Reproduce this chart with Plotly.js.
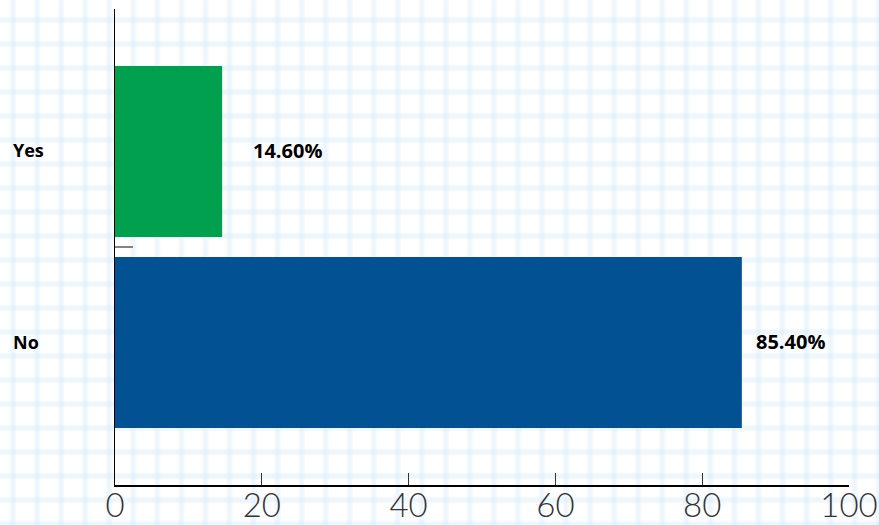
<!DOCTYPE html>
<html>
<head>
<meta charset="utf-8">
<script src="https://cdn.plot.ly/plotly-3.0.1.min.js"></script>
<style>
html, body { margin: 0; padding: 0; }
body {
  width: 879px; height: 525px; overflow: hidden;
  background-color: #ffffff;
  background-image:
    linear-gradient(to right, rgba(210,233,250,0) 0px, rgba(210,233,250,0) 9px, rgba(210,233,250,0.3) 11px, rgba(210,233,250,0.42) 13px, rgba(210,233,250,0.3) 15px, rgba(210,233,250,0) 17px, rgba(210,233,250,0) 24.06px),
    linear-gradient(to bottom, rgba(210,233,250,0) 0px, rgba(210,233,250,0) 16px, rgba(210,233,250,0.3) 18px, rgba(210,233,250,0.42) 20px, rgba(210,233,250,0.3) 22px, rgba(210,233,250,0) 24px, rgba(210,233,250,0) 24px);
  background-size: 24.06px 24px, 24.06px 24px;
  background-position: 0 0, 0 0;
}
#chart { width: 879px; height: 525px; }
</style>
</head>
<body>
<div id="chart"></div>
<script>
// Data
const categories = ["No", "Yes"];
const values = [85.4, 14.6];
const valueLabels = ["85.40%", "14.60%"];
const barColors = ["#025192", "#00a04e"];
const xTickVals = [0, 20, 40, 60, 80, 100];
const xTickText = ["0", "20", "40", "60", "80", "100"];

// Style-only offsets for the value labels (pixels right of the bar end)
const labelShiftPx = [12, 29];

const trace = {
  type: "bar",
  orientation: "h",
  y: categories,
  x: values,
  marker: { color: barColors, line: { width: 0 } },
  hoverinfo: "none",
  width: 0.895
};

const annotations = [];
categories.forEach((c, i) => {
  annotations.push({
    xref: "paper", yref: "y", x: -0.142, y: c,
    xanchor: "left", yanchor: "middle", yshift: 1,
    text: c, showarrow: false,
    font: { family: "Open Sans, sans-serif", size: 18, color: "#000", weight: 700 }
  });
  annotations.push({
    xref: "x", yref: "y", x: values[i], y: c,
    xanchor: "left", yanchor: "middle", yshift: 1,
    text: valueLabels[i], showarrow: false,
    font: { family: "Open Sans, sans-serif", size: 20, color: "#000", weight: 700 },
    xshift: labelShiftPx[i]
  });
});

const layout = {
  width: 879, height: 525,
  margin: { l: 115, r: 30, t: 9, b: 40, pad: 0 },
  paper_bgcolor: "rgba(0,0,0,0)",
  plot_bgcolor: "rgba(0,0,0,0)",
  showlegend: false,
  bargap: 0.105,
  xaxis: {
    range: [0, 100],
    tickmode: "array", tickvals: xTickVals, ticktext: xTickText,
    ticks: "inside", ticklen: 12, tickwidth: 1, tickcolor: "#333",
    ticklabelstandoff: -9,
    showline: true, linecolor: "#000", linewidth: 1.5,
    showgrid: false, zeroline: false,
    tickfont: { family: "Lato, sans-serif", size: 33, color: "#333", weight: 300 },
    fixedrange: true
  },
  yaxis: {
    type: "category",
    categoryorder: "array", categoryarray: categories,
    range: [-0.746, 1.746],
    showticklabels: false, ticks: "",
    showline: true, linecolor: "#000", linewidth: 1.5,
    showgrid: false, zeroline: false,
    fixedrange: true
  },
  shapes: [{
    type: "line", xref: "x", yref: "y",
    x0: 0, x1: 2.45, y0: 0.5, y1: 0.5,
    line: { color: "#333", width: 1.2 }
  }],
  annotations: annotations
};

Plotly.newPlot("chart", [trace], layout, { displayModeBar: false, staticPlot: true });
</script>
</body>
</html>
